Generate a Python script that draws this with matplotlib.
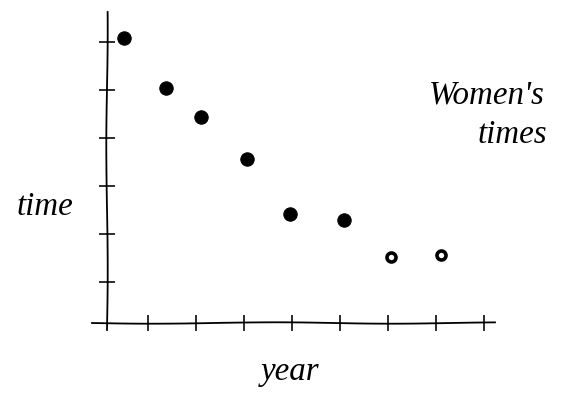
import matplotlib
matplotlib.use("Agg")
import matplotlib.pyplot as plt

# data (years as tick index, time in tick units)
years_full = [0.5, 1.375, 2.1, 3.06, 3.96, 5.08]
times_full = [6.08, 5.04, 4.44, 3.56, 2.42, 2.29]
years_ring = [6.06, 7.1]
times_ring = [1.52, 1.56]
x_ticks = [1, 2, 3, 4, 5, 6, 7, 8]
y_ticks = [1, 2, 3, 4, 5, 6]

fig = plt.figure(figsize=(8, 5.5), dpi=72)
ax = fig.add_axes([0, 0, 1, 1])
ax.set_xlim((0 - 100) / 48, (576 - 100) / 48)
ax.set_ylim((330 - 396) / 48, (330 - 0) / 48)

for s in ["top", "right"]:
    ax.spines[s].set_visible(False)
ax.spines["left"].set_position(("data", 0.15))
ax.spines["bottom"].set_position(("data", 0.15))
ax.spines["left"].set_bounds(0.0, 6.63)
ax.spines["bottom"].set_bounds(-0.17, 8.23)
for s in ["left", "bottom"]:
    ax.spines[s].set_linewidth(1.8)
    ax.spines[s].set_sketch_params(0.7, 250, 1.5)

ax.set_xticks(x_ticks)
ax.set_yticks(y_ticks)
ax.set_xticklabels([])
ax.set_yticklabels([])
ax.tick_params(direction="inout", length=16, width=1.6, color="black")

ax.scatter(years_full, times_full, s=180, color="black", zorder=3)
ax.plot(years_ring, times_ring, "o", ms=9, mfc="white", mec="black", mew=3.6, zorder=3)

font = dict(family="Liberation Serif", style="italic", fontsize=33, color="black")
ax.text(45 / 576, 1 - 207 / 396, "time", transform=ax.transAxes, ha="center", va="center", **font)
ax.text(290 / 576, 1 - 372 / 396, "year", transform=ax.transAxes, ha="center", va="center", **font)
ax.text(487 / 576, 1 - 95 / 396, "Women's", transform=ax.transAxes, ha="center", va="center", **font)
ax.text(512 / 576, 1 - 135 / 396, "times", transform=ax.transAxes, ha="center", va="center", **font)

fig.savefig("out.png", dpi=72)
